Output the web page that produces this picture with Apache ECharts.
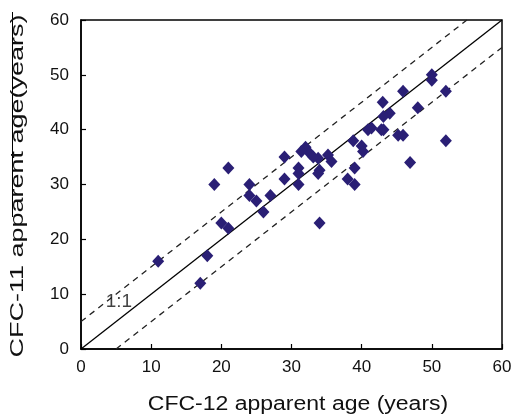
<!DOCTYPE html>
<html><head><meta charset="utf-8">
<script src="https://cdn.jsdelivr.net/npm/echarts@6/dist/echarts.min.js"></script>
<style>html,body{margin:0;padding:0;background:#fff}#c{width:517px;height:415px}</style>
</head><body><div id="c"></div>
<script>
var cfc12 = [11,18,17,21,19,24,24,25,27,26,20,21,29,29,31,31,31,32,32.6,31.4,33.8,35.2,35.7,34,33.8,34,38,39,39,38.8,40,40.2,40.9,42.8,45.2,45.9,46.9,52,50,50,45.9,52,43,48,44,43.1,41.4,43.1,33.1];
var cfc11 = [16,17,12,33,30,30,28,27,28,25,23,22,35,31,33,32,30,36.8,35.7,36,34.8,35.4,34.2,32.6,32,23,31,30,33,38,37,36,40,40,39,39,34,38,50,49,47,47,45,44,43,42.4,40.3,40,35];
var axisTicks = [0,10,20,30,40,50,60];
var lineLabel = '1:1';
var xTitle = 'CFC-12 apparent age (years)';
var yTitle = 'CFC-11 apparent age(years)';

var pts = cfc12.map(function(x,i){return [x,cfc11[i]];});
var chart = echarts.init(document.getElementById('c'));
var FONT = 'Liberation Sans, Arial, sans-serif';
var axisCommon = {
  min: axisTicks[0], max: axisTicks[axisTicks.length-1], interval: 10,
  axisLine:{show:true,onZero:false,lineStyle:{color:'#000',width:1.5}},
  axisTick:{show:true,inside:true,length:5,lineStyle:{color:'#000',width:1.2}},
  splitLine:{show:false},
  axisLabel:{color:'#111',fontSize:17,fontFamily:FONT}
};
chart.setOption({
  animation:false,
  grid:{left:81,right:15,top:20,bottom:66,show:true,borderColor:'#000',borderWidth:1.5,
    containLabel:false,outerBoundsMode:'none'},
  xAxis:Object.assign({type:'value'},axisCommon,
    {axisLabel:Object.assign({},axisCommon.axisLabel,{margin:10})}),
  yAxis:Object.assign({type:'value'},axisCommon,
    {axisLabel:Object.assign({},axisCommon.axisLabel,{margin:12})}),
  graphic:[
    {type:'line',shape:{x1:12.5,y1:12,x2:12.5,y2:217},style:{stroke:'#000',lineWidth:1}},
    {type:'text',x:298,y:404,scaleX:1.15,
      style:{text:xTitle,fill:'#111',font:'20px '+FONT,textAlign:'center',textVerticalAlign:'middle'}},
    {type:'text',x:18.5,y:186,rotation:Math.PI/2,scaleX:1.5,
      style:{text:yTitle,fill:'#111',font:'18px '+FONT,textAlign:'center',textVerticalAlign:'middle'}}
  ],
  series:[
    {type:'line',data:[[0,0],[60,60]],symbol:'none',lineStyle:{color:'#000',width:1.3},silent:true,z:1},
    {type:'line',data:[[0,5],[55,60]],symbol:'none',lineStyle:{color:'#222',width:1.3,type:[6,5]},silent:true,z:1},
    {type:'line',data:[[5,0],[60,55]],symbol:'none',lineStyle:{color:'#222',width:1.3,type:[6,5]},silent:true,z:1},
    {type:'scatter',data:pts,symbol:'diamond',symbolSize:[12,13],itemStyle:{color:'#2a1f75',opacity:1},z:3},
    {type:'scatter',data:[[5.4,8.6]],symbolSize:0,silent:true,
      label:{show:true,formatter:lineLabel,position:'inside',color:'#111',fontSize:19,fontFamily:FONT}}
  ]
});
</script></body></html>
